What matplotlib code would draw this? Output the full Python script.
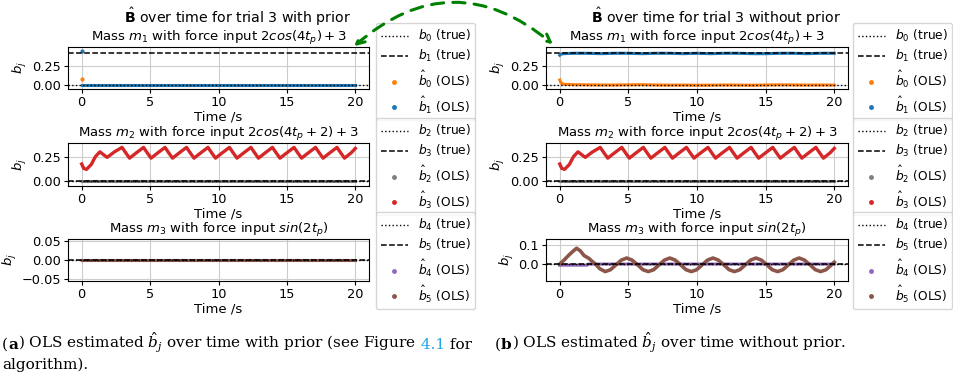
import matplotlib.pyplot as plt
from matplotlib.lines import Line2D
from matplotlib.patches import FancyArrowPatch

# ---- values ----
b_true = [0.0, 0.41, 0.0, 0.0, 0.0, 0.0]
t_span = [0, 20]

# mass 1, with prior: one first estimate then everything sits at 0
wp_b0_first = 0.08
wp_b1_first = 0.44
wp_flat = [0.0, 0.0]

# mass 1, without prior
np_t1 = [0, 0.1, 0.3, 1, 2, 3, 4, 5, 6, 7, 8, 9, 10, 11, 12, 13, 14, 15, 16, 17, 18, 19, 20]
np_b0 = [0.07, 0.03, 0.015, 0.01, 0.008, 0.006, 0.006, 0.008, 0.01, 0.006, 0.004, 0.005,
         0.003, 0.004, 0.006, 0.005, 0.003, 0.006, 0.008, 0.007, 0.005, 0.006, 0.005]
np_b1 = [0.385, 0.40, 0.405, 0.41, 0.41, 0.405, 0.41, 0.41, 0.405, 0.41, 0.41, 0.405,
         0.41, 0.405, 0.41, 0.41, 0.405, 0.405, 0.41, 0.41, 0.405, 0.41, 0.41]

# mass 2 (same in both runs): b3 estimate
m2_t = [0, 0.15, 0.35, 0.7, 1.0, 1.33, 1.6, 1.86, 2.4, 2.95,
        3.22, 3.50, 4.0, 4.52, 4.79, 5.07, 5.57, 6.09, 6.36, 6.64, 7.14, 7.66,
        7.93, 8.21, 8.71, 9.23, 9.50, 9.78, 10.28, 10.80, 11.07, 11.35, 11.85, 12.37,
        12.64, 12.92, 13.42, 13.94, 14.21, 14.49, 15.0, 15.52, 15.79, 16.07, 16.57, 17.09,
        17.36, 17.64, 18.14, 18.66, 18.93, 19.21, 19.7, 20.0]
m2_b3 = [0.175, 0.13, 0.12, 0.17, 0.25, 0.30, 0.27, 0.243, 0.30, 0.345,
         0.29, 0.235, 0.29, 0.345, 0.29, 0.235, 0.29, 0.345, 0.29, 0.235, 0.29, 0.345,
         0.29, 0.235, 0.29, 0.345, 0.29, 0.235, 0.29, 0.345, 0.29, 0.235, 0.29, 0.345,
         0.29, 0.235, 0.29, 0.345, 0.29, 0.235, 0.29, 0.345, 0.29, 0.235, 0.29, 0.345,
         0.29, 0.235, 0.29, 0.345, 0.29, 0.235, 0.29, 0.335]

# mass 3, without prior
np_t4 = [0, 2.0, 2.1, 20]
np_b4 = [-0.006, -0.006, 0.0, 0.0]
np_t5 = [0, 0.3, 0.7, 1.0, 1.23, 1.5, 1.77, 2.13, 2.35, 2.6, 2.92, 3.31, 3.70,
         4.10, 4.49, 4.88, 5.27, 5.67, 6.06, 6.45, 6.84, 7.24, 7.63, 8.02, 8.41,
         8.81, 9.20, 9.59, 9.98, 10.38, 10.77, 11.16, 11.55, 11.95, 12.34, 12.73, 13.12,
         13.52, 13.91, 14.30, 14.69, 15.09, 15.48, 15.87, 16.26, 16.66, 17.05, 17.44, 17.83,
         18.23, 18.62, 19.01, 19.40, 19.80, 20.0]
np_b5 = [0.0, 0.02, 0.05, 0.07, 0.084, 0.07, 0.045, 0.03, 0.015, 0.0, -0.025, -0.04, -0.03,
         -0.004, 0.021, 0.032, 0.021, -0.004, -0.03, -0.04, -0.03, -0.004, 0.021, 0.032, 0.021,
         -0.004, -0.03, -0.04, -0.03, -0.004, 0.021, 0.032, 0.021, -0.004, -0.03, -0.04, -0.03,
         -0.004, 0.021, 0.032, 0.021, -0.004, -0.03, -0.04, -0.03, -0.004, 0.021, 0.032, 0.021,
         -0.004, -0.03, -0.04, -0.03, -0.004, 0.01]

titles = ['Mass $m_1$ with force input $2cos(4t_p) + 3$',
          'Mass $m_2$ with force input $2cos(4t_p + 2) + 3$',
          'Mass $m_3$ with force input $sin(2t_p)$']
est_colors = ['tab:orange', 'tab:blue', 'tab:gray', 'tab:red', 'tab:purple', 'tab:brown']

W, H = 954, 375
fig = plt.figure(figsize=(W / 100, H / 100), dpi=100)
FS = 9.5      # titles, axis labels
TFS = 9.3     # tick labels
LFS = 8.8     # legend


def px_axes(x0, y0, x1, y1):
    return fig.add_axes([x0 / W, 1 - y1 / H, (x1 - x0) / W, (y1 - y0) / H])


def style(ax, row):
    ax.set_xlim(-1, 21)
    ax.set_xticks([0, 5, 10, 15, 20])
    ax.grid(True, color='#cccccc', lw=0.8)
    ax.tick_params(labelsize=TFS, length=3, pad=2)
    ax.set_ylabel('$b_j$', fontsize=FS, labelpad=2)
    ax.set_xlabel('Time /s', fontsize=FS, labelpad=1)
    ax.set_title(titles[row], fontsize=FS, pad=3)
    j = 2 * row
    ax.axhline(b_true[j], color='k', ls=':', lw=1, zorder=5)
    ax.axhline(b_true[j + 1], color='k', ls='--', lw=1.1, zorder=5)


def add_legend(ax, row, x, y):
    j = 2 * row
    handles = [Line2D([], [], color='k', ls=':', lw=1, label=f'$b_{j}$ (true)'),
               Line2D([], [], color='k', ls='--', lw=1.1, label=f'$b_{j + 1}$ (true)'),
               Line2D([], [], color=est_colors[j], marker='o', ms=2.5, ls='none',
                      label=r'$\hat{b}_%d$ (OLS)' % j),
               Line2D([], [], color=est_colors[j + 1], marker='o', ms=2.5, ls='none',
                      label=r'$\hat{b}_%d$ (OLS)' % (j + 1))]
    ax.legend(handles=handles, loc='upper left', bbox_to_anchor=(x / W, 1 - y / H),
              bbox_transform=fig.transFigure, fontsize=LFS, labelspacing=0.36,
              borderaxespad=0, handlelength=2.2, borderpad=0.4)


rows_y = [(47, 89), (143, 186), (239, 281)]
leg_y = [23, 118, 212]

for side, (x0, x1, lx) in enumerate([(68, 369, 376), (546, 848, 853)]):
    axes = [px_axes(x0, a, x1, b) for a, b in rows_y]
    for r, ax in enumerate(axes):
        style(ax, r)
        add_legend(ax, r, lx, leg_y[r])

    a1, a2, a3 = axes
    if side == 0:
        a1.plot(t_span, wp_flat, color=est_colors[0], lw=2.2)
        a1.plot(t_span, wp_flat, color=est_colors[1], lw=2.2)
        a1.plot([0], [wp_b0_first], 'o', color=est_colors[0], ms=2)
        a1.plot([0], [wp_b1_first], 'o', color=est_colors[1], ms=2)
        a3.plot(t_span, wp_flat, color=est_colors[4], lw=2.2)
        a3.plot(t_span, wp_flat, color=est_colors[5], lw=2.2)
        a3.set_ylim(-0.055, 0.055)
        a3.set_yticks([-0.05, 0.0, 0.05])
    else:
        a1.plot(np_t1, np_b0, color=est_colors[0], lw=2.2)
        a1.plot(np_t1, np_b1, color=est_colors[1], lw=2.2)
        a3.plot(np_t4, np_b4, color=est_colors[4], lw=2.2)
        a3.plot(np_t5, np_b5, color=est_colors[5], lw=2.6)
        a3.set_ylim(-0.09, 0.133)
        a3.set_yticks([0.0, 0.1])
    a1.set_ylim(-0.045, 0.49)
    a1.set_yticks([0.0, 0.25])
    a2.plot(t_span, wp_flat, color=est_colors[2], lw=2.2)
    a2.plot(m2_t, m2_b3, color=est_colors[3], lw=2.4)
    a2.set_ylim(-0.05, 0.39)
    a2.set_yticks([0.0, 0.25])

fig.text(238 / W, 1 - 17 / H, r'$\hat{\mathbf{B}}$ over time for trial 3 with prior',
         ha='center', va='center', fontsize=10.2)
fig.text(716 / W, 1 - 17 / H, r'$\hat{\mathbf{B}}$ over time for trial 3 without prior',
         ha='center', va='center', fontsize=10.2)

# green dashed double arrow between the two titles
arrow = FancyArrowPatch((352 / W, 1 - 48 / H), (555 / W, 1 - 46 / H),
                        transform=fig.transFigure, arrowstyle='<->', mutation_scale=14,
                        connectionstyle='arc3,rad=-0.43', color='green', lw=2.2,
                        ls=(0, (4, 3)))
fig.add_artist(arrow)

# caption, written piece by piece so '4.1' can be coloured
cap = fig.add_axes([0, 0, 1, 1])
cap.axis('off')
cap_font = dict(family='DejaVu Serif', fontsize=11, math_fontfamily='dejavuserif')


def chain(parts, x, y):
    prev = None
    for text, color, weight in parts:
        if prev is None:
            prev = cap.text(x / W, 1 - y / H, text, color=color, weight=weight,
                            transform=fig.transFigure, va='baseline', **cap_font)
        else:
            prev = cap.annotate(text, xy=(1, 1 - y / H), xycoords=(prev, 'figure fraction'),
                                color=color, weight=weight, va='baseline', **cap_font)


chain([('(', 'k', 'normal'), ('a', 'k', 'bold'),
       (r') OLS estimated $\hat{b}_j$ over time with prior (see Figure', 'k', 'normal'),
       ('\u00a04.1', '#1ea5e6', 'normal'), ('\u00a0for', 'k', 'normal')], 2, 349)
chain([('algorithm).', 'k', 'normal')], 2, 369)
chain([('(', 'k', 'normal'), ('b', 'k', 'bold'),
       (r') OLS estimated $\hat{b}_j$ over time without prior.', 'k', 'normal')], 495, 349)

fig.savefig('out.png', dpi=100)
